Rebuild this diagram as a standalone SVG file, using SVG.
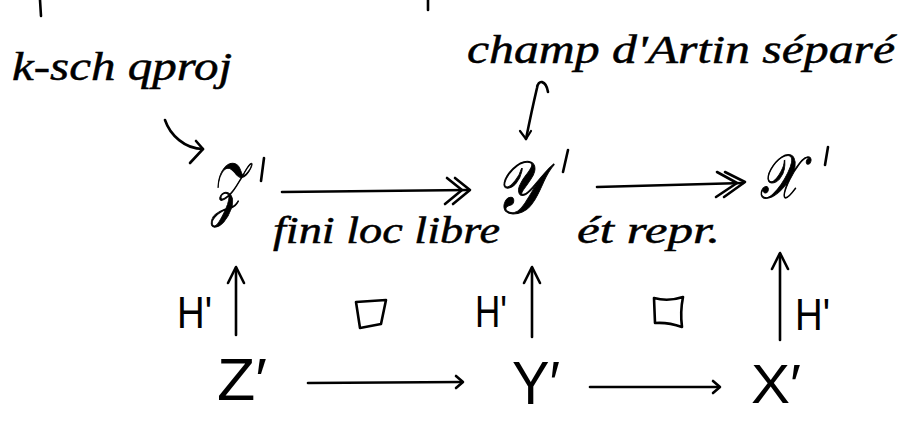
<svg xmlns="http://www.w3.org/2000/svg" width="907" height="427" viewBox="0 0 907 427">
<style>
.note{font-family:"Liberation Serif","DejaVu Serif",serif;font-style:italic;fill:#000;stroke:#000;stroke-width:0.5}
.scr{font-family:"DejaVu Serif","Noto Sans","Liberation Serif",serif;font-style:italic;fill:#000;stroke:#000;stroke-width:1}
.cap{font-family:"Liberation Sans","DejaVu Sans",sans-serif;fill:#000}
.ln{fill:none;stroke:#000;stroke-width:2.6;stroke-linecap:round;stroke-linejoin:round}
.thin{fill:none;stroke:#000;stroke-width:2.2;stroke-linecap:round;stroke-linejoin:round}
</style>
<rect width="907" height="427" fill="#fff"/>
<g id="fragments">
<path class="ln" d="M40,0 L41,16"/>
<path class="ln" d="M428,0 L428,10"/>
</g>
<g id="label-ksch"><text class="note" x="12" y="80" font-size="40" textLength="220" lengthAdjust="spacingAndGlyphs">k-sch qproj</text></g>
<g id="label-champ"><text class="note" x="467" y="63" font-size="40" textLength="428" lengthAdjust="spacingAndGlyphs">champ d'Artin séparé</text></g>
<g id="node-Zs"><text class="scr" x="211" y="212" font-size="70" textLength="32" lengthAdjust="spacingAndGlyphs">𝒵</text><path class="ln" d="M264,158 L261,181"/></g>
<g id="node-Ys"><text class="scr" x="494" y="213" font-size="74" textLength="47" lengthAdjust="spacingAndGlyphs">𝒴</text><path class="ln" d="M568,150 L563,172"/></g>
<g id="node-Xs"><text class="scr" x="760" y="198" font-size="62" textLength="39" lengthAdjust="spacingAndGlyphs">𝒳</text><path class="ln" d="M828,147 L825,165"/></g>
<g id="label-fini"><text class="note" x="273" y="243" font-size="38" textLength="227" lengthAdjust="spacingAndGlyphs">fini loc libre</text></g>
<g id="label-et"><text class="note" x="577" y="243" font-size="38" textLength="143" lengthAdjust="spacingAndGlyphs">ét repr.</text></g>
<g id="label-H1"><text class="cap" x="177" y="328" font-size="44" textLength="35" lengthAdjust="spacingAndGlyphs">H'</text></g>
<g id="label-H2"><text class="cap" x="475" y="327" font-size="44" textLength="32" lengthAdjust="spacingAndGlyphs">H'</text></g>
<g id="label-H3"><text class="cap" x="795" y="330" font-size="44" textLength="35" lengthAdjust="spacingAndGlyphs">H'</text></g>
<g id="square-1"><path class="ln" d="M356,302 L386,300 L381,324 L360,328 Z"/></g>
<g id="square-2"><path class="ln" d="M654,298 Q668,302 683,297 Q680,312 682,327 Q668,322 655,323 Z"/></g>
<g id="node-Z"><text class="cap" x="217" y="400" font-size="60" textLength="50" lengthAdjust="spacingAndGlyphs">Z′</text></g>
<g id="node-Y"><text class="cap" x="512" y="404" font-size="62" textLength="48" lengthAdjust="spacingAndGlyphs">Y′</text></g>
<g id="node-X"><text class="cap" x="751" y="403" font-size="56" textLength="50" lengthAdjust="spacingAndGlyphs">X′</text></g>
<g id="connectors">
<path class="ln" d="M165,120 C170,135 185,149 203,149"/>
<path class="ln" d="M196,141 L203,149 L190,163"/>
<path class="ln" d="M548,92 C546,80 538,79 537,88 C533,105 529,124 526,139"/>
<path class="thin" d="M520,131 L526,139 L531,131"/>
<path class="ln" d="M282,192 L468,190"/>
<path class="ln" d="M447,178 L462,190 L445,204"/>
<path class="ln" d="M455,178 L470,190 L453,204"/>
<path class="ln" d="M597,187 L743,183"/>
<path class="ln" d="M717,172 L737,183 L716,197"/>
<path class="ln" d="M725,172 L745,182 L724,197"/>
<path class="ln" d="M236,335 L236,268"/>
<path class="ln" d="M228,283 L236,267 L244,283"/>
<path class="ln" d="M532,337 L532,268"/>
<path class="ln" d="M524,283 L532,267 L540,283"/>
<path class="ln" d="M780,340 L780,254"/>
<path class="ln" d="M772,269 L780,253 L788,269"/>
<path class="ln" d="M308,383 L462,382"/>
<path class="ln" d="M456,376 L463,382 L456,388"/>
<path class="ln" d="M590,387 L719,387"/>
<path class="ln" d="M713,381 L720,387 L713,393"/>
</g>
</svg>
